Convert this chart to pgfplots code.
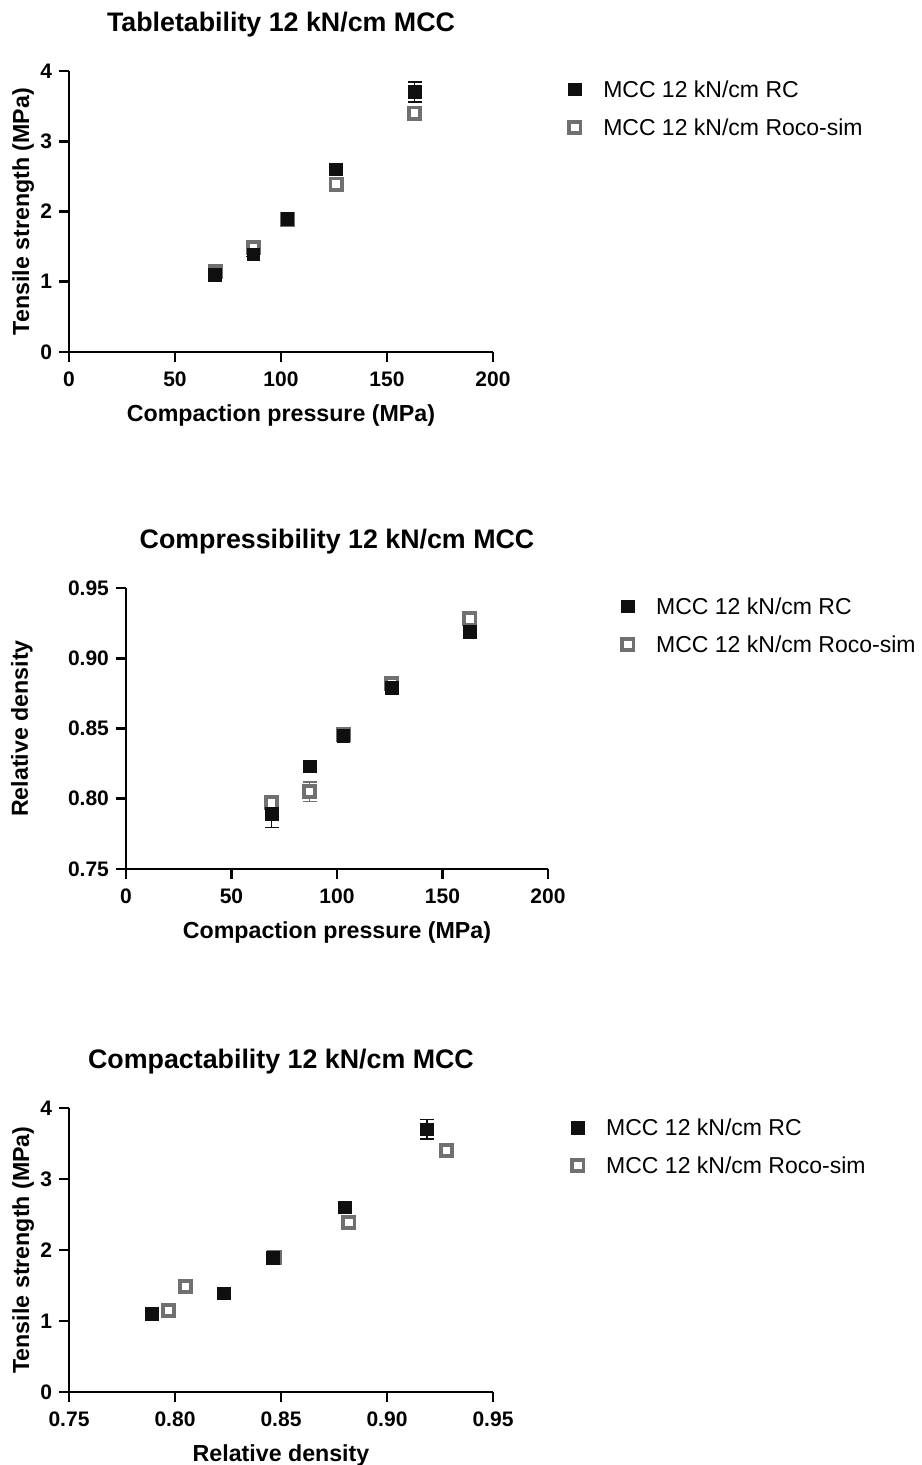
\documentclass[border=0pt]{standalone}
\usepackage{fontspec}
\setmainfont{Liberation Sans}
\usepackage{pgfplots}
\pgfplotsset{compat=1.18}

\definecolor{rcblack}{RGB}{15,15,15}
\definecolor{simgray}{RGB}{112,112,112}

\pgfplotsset{
  mccpanel/.style={
    scale only axis,
    width=212pt, height=140.5pt,
    axis x line*=bottom, axis y line*=left,
    axis line style={line width=1.3pt, black},
    tick align=outside,
    major tick length=5pt,
    tick style={line width=1.3pt, black},
    /pgf/number format/assume math mode=true,
    tick label style={font=\bfseries\fontsize{10.5}{12}\selectfont},
    xticklabel style={yshift=-1.5pt},
    label style={font=\bfseries\fontsize{11.6}{14}\selectfont},
    title style={font=\bfseries\fontsize{13.4}{16}\selectfont,
      at={(axis description cs:0.5,1)}, anchor=base, yshift=13.8pt},
    xlabel style={at={(axis description cs:0.5,0)}, anchor=base, yshift=-34.5pt},
    clip=false,
    legend style={draw=none, fill=none, inner sep=0pt,
      font=\fontsize{11.5}{14}\selectfont,
      anchor=north west, row sep=10.7pt,
      nodes={inner sep=0pt, text height=8.3pt, text depth=0pt},
      /tikz/every odd column/.append style={column sep=11pt}},
    legend cell align=left,
    legend image code/.code={\draw[##1] plot coordinates {(0pt,0pt)};},
  },
  rcstyle/.style={only marks, mark=square*, mark size=3.2pt, color=rcblack,
    line width=0.4pt,
    mark options={solid, fill=rcblack, draw=rcblack, line width=0.4pt},
    error bars/y dir=both, error bars/y explicit,
    error bars/error bar style={line width=0.8pt, rcblack},
    error bars/error mark options={rotate=90, line width=0.8pt, mark size=3.5pt, rcblack}},
  simstyle/.style={only marks, mark=square*, mark size=2.8pt, color=simgray,
    line width=1.9pt,
    mark options={solid, fill=white, draw=simgray, line width=1.9pt},
    error bars/y dir=both, error bars/y explicit,
    error bars/error bar style={line width=0.8pt, simgray},
    error bars/error mark options={rotate=90, line width=0.8pt, mark size=3.5pt, simgray}},
  simlegend/.style={only marks, mark=square*, mark size=2.8pt, color=simgray,
    line width=1.9pt,
    mark options={solid, fill=white, draw=simgray, line width=1.9pt}},
}

\begin{document}
\begin{tikzpicture}
\useasboundingbox (0,0) rectangle (460.5pt,-732.5pt);

% Tabletability: tensile strength vs compaction pressure
\begin{axis}[mccpanel,
  at={(34.5pt,-176pt)}, anchor=south west,
  title={Tabletability 12 kN/cm MCC},
  xlabel={Compaction pressure (MPa)},
  ylabel={Tensile strength (MPa)},
  ylabel style={at={(axis description cs:-0.108,0.5)}, anchor=center},
  xmin=0, xmax=200, ymin=0, ymax=4,
  xtick={0,50,100,150,200}, ytick={0,1,2,3,4},
  legend style={at={(axis description cs:1.177,0.9655)}},
]
\addplot[simstyle, forget plot] coordinates {
  (69,1.15) +- (0,0.03)
  (87,1.49) +- (0,0.03)
  (103,1.89) +- (0,0.02)
  (126,2.39) +- (0,0.03)
  (163,3.40) +- (0,0.03)
};
\addplot[rcstyle] coordinates {
  (69,1.10) +- (0,0.05)
  (87,1.39) +- (0,0.03)
  (103,1.89) +- (0,0.03)
  (126,2.60) +- (0,0.06)
  (163,3.70) +- (0,0.14)
};
\addlegendentry{MCC 12 kN/cm RC}
\addlegendimage{simlegend}
\addlegendentry{MCC 12 kN/cm Roco-sim}
\end{axis}

% Compressibility: relative density vs compaction pressure
\begin{axis}[mccpanel,
  at={(63pt,-434.5pt)}, anchor=south west,
  width=211pt,
  title={Compressibility 12 kN/cm MCC},
  xlabel={Compaction pressure (MPa)},
  ylabel={Relative density},
  ylabel style={at={(axis description cs:-0.247,0.5)}, anchor=center},
  xmin=0, xmax=200, ymin=0.75, ymax=0.95,
  xtick={0,50,100,150,200}, ytick={0.75,0.80,0.85,0.90,0.95},
  yticklabel style={/pgf/number format/.cd, fixed, fixed zerofill, precision=2},
  legend style={at={(axis description cs:1.173,0.9655)}},
]
\addplot[simstyle, forget plot] coordinates {
  (69,0.797) +- (0,0.003)
  (87,0.805) +- (0,0.007)
  (103,0.846) +- (0,0.001)
  (126,0.882) +- (0,0.002)
  (163,0.928) +- (0,0.002)
};
\addplot[rcstyle] coordinates {
  (69,0.789) +- (0,0.0095)
  (87,0.823) +- (0,0.002)
  (103,0.845) +- (0,0.001)
  (126,0.879) +- (0,0.002)
  (163,0.919) +- (0,0.002)
};
\addlegendentry{MCC 12 kN/cm RC}
\addlegendimage{simlegend}
\addlegendentry{MCC 12 kN/cm Roco-sim}
\end{axis}

% Compactability: tensile strength vs relative density
\begin{axis}[mccpanel,
  at={(34.5pt,-696pt)}, anchor=south west,
  height=142pt,
  title={Compactability 12 kN/cm MCC},
  xlabel={Relative density},
  ylabel={Tensile strength (MPa)},
  ylabel style={at={(axis description cs:-0.108,0.5)}, anchor=center},
  xmin=0.75, xmax=0.95, ymin=0, ymax=4,
  xtick={0.75,0.80,0.85,0.90,0.95}, ytick={0,1,2,3,4},
  xticklabel style={/pgf/number format/.cd, fixed, fixed zerofill, precision=2},
  legend style={at={(axis description cs:1.184,0.962)}},
]
\addplot[simstyle, forget plot] coordinates {
  (0.797,1.15) +- (0,0.03)
  (0.805,1.49) +- (0,0.03)
  (0.847,1.89) +- (0,0.02)
  (0.882,2.39) +- (0,0.03)
  (0.928,3.40) +- (0,0.03)
};
\addplot[rcstyle] coordinates {
  (0.789,1.10) +- (0,0.05)
  (0.823,1.39) +- (0,0.03)
  (0.846,1.89) +- (0,0.03)
  (0.880,2.60) +- (0,0.06)
  (0.919,3.70) +- (0,0.14)
};
\addlegendentry{MCC 12 kN/cm RC}
\addlegendimage{simlegend}
\addlegendentry{MCC 12 kN/cm Roco-sim}
\end{axis}
\end{tikzpicture}
\end{document}
